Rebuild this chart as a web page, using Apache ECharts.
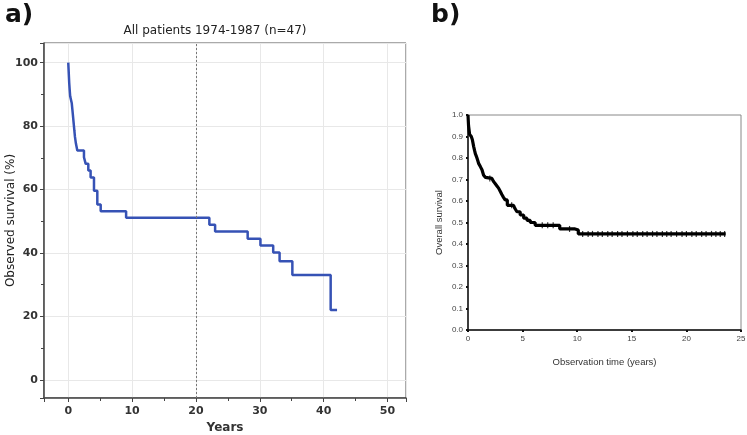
<!DOCTYPE html>
<html><head><meta charset="utf-8">
<script src="https://cdn.jsdelivr.net/npm/echarts@6/dist/echarts.min.js"></script>
<style>html,body{margin:0;padding:0;background:#fff}#c{width:747px;height:435px}</style>
</head><body><div id="c"></div>
<script>
// Panel a: Kaplan-Meier, all patients 1974-1987 (n=47)
const aTimes = [0, 0.05, 0.1, 0.15, 0.22, 0.3, 0.55, 0.65, 0.75, 0.85, 0.95, 1.05, 1.2, 1.42, 2.46, 2.73, 3.14, 3.5, 4.03, 4.55, 5.08, 9.06, 22.1, 23.0, 28.1, 30.1, 32.1, 33.1, 35.1, 41.1, 42.1];
const aSurvival = [100, 97.9, 95.7, 93.6, 91.5, 89.4, 87.2, 85.1, 83.0, 80.9, 78.7, 76.6, 74.5, 72.3, 70.2, 68.1, 66.0, 63.8, 59.6, 55.3, 53.2, 51.1, 48.9, 46.8, 44.5, 42.4, 40.2, 37.4, 33.1, 22.0, 22.0];
const aCutoff = 20;

// Panel b: overall survival
const bTimes = [0, 0.05, 0.15, 0.3, 0.4, 0.52, 0.6, 0.67, 0.75, 0.82, 0.9, 0.97, 1.05, 1.13, 1.28, 1.43, 1.6, 1.74, 2.19, 2.35, 2.5, 2.65, 2.8, 2.95, 3.1, 3.25, 3.4, 3.6, 4.17, 4.3, 4.48, 4.78, 5.1, 5.4, 5.7, 6.15, 8.1, 8.4, 9.8, 10.1, 23.6];
const bSurvival = [1.0, 0.95, 0.91, 0.90, 0.885, 0.853, 0.835, 0.82, 0.81, 0.80, 0.787, 0.775, 0.768, 0.76, 0.745, 0.72, 0.71, 0.705, 0.698, 0.69, 0.68, 0.67, 0.66, 0.645, 0.63, 0.617, 0.605, 0.58, 0.58, 0.565, 0.55, 0.535, 0.52, 0.51, 0.50, 0.487, 0.487, 0.47, 0.465, 0.447, 0.447];
const bCensored = [2.0, 4.0, 6.8, 7.3, 7.8, 9.3, 10.5, 11.0, 11.4, 11.9, 12.3, 12.8, 13.2, 13.7, 14.1, 14.6, 15.1, 15.5, 16.0, 16.4, 16.9, 17.3, 17.8, 18.2, 18.6, 19.1, 19.6, 20.0, 20.5, 20.9, 21.4, 21.8, 22.3, 22.7, 23.1, 23.5];

function stepValue(times, vals, t) {
  let v = vals[0];
  for (let i = 0; i < times.length; i++) { if (times[i] <= t) v = vals[i]; }
  return v;
}

const chart = echarts.init(document.getElementById('c'));
const fa = 'DejaVu Sans';
const fb = 'Liberation Sans';

chart.setOption({
  animation: false,
  title: {
    text: 'All patients 1974-1987 (n=47)',
    left: 210, top: 20, textAlign: 'center',
    textStyle: { fontFamily: fa, fontSize: 12, fontWeight: 'normal', color: '#222' }
  },
  graphic: [
    { type: 'text', left: 5, top: 3, style: { text: 'a)', font: 'bold 25px "DejaVu Sans"', fill: '#111' } },
    { type: 'text', left: 431, top: 3, style: { text: 'b)', font: 'bold 25px "DejaVu Sans"', fill: '#111' } }
  ],
  grid: [
    { left: 44, top: 43, width: 362, height: 355, outerBoundsMode: 'none', containLabel: false, show: true, borderColor: '#555', borderWidth: 1, backgroundColor: 'transparent' },
    { left: 468, top: 115, width: 273, height: 215, outerBoundsMode: 'none', containLabel: false, show: true, borderColor: '#888', borderWidth: 1, backgroundColor: 'transparent' }
  ],
  xAxis: [
    {
      gridIndex: 0, type: 'value', min: -3.8, max: 52.9, splitNumber: 6,
      name: 'Years', nameLocation: 'middle', nameGap: 24, nameMoveOverlap: false,
      nameTextStyle: { fontFamily: fa, fontSize: 12, fontWeight: 'bold', color: '#333' },
      axisLine: { show: true, onZero: false, lineStyle: { color: '#444', width: 1.5 } },
      axisTick: { show: true, length: 4, lineStyle: { color: '#444' } },
      minorTick: { show: true, splitNumber: 2, length: 3, lineStyle: { color: '#444' } },
      axisLabel: { fontFamily: fa, fontSize: 11, fontWeight: 'bold', color: '#333', showMinLabel: false, showMaxLabel: false, margin: 8 },
      splitLine: { show: true, lineStyle: { color: '#e8e8e8' } }
    },
    {
      gridIndex: 1, type: 'value', min: 0, max: 25, interval: 5,
      name: 'Observation time (years)', nameLocation: 'middle', nameGap: 27, nameMoveOverlap: false,
      nameTextStyle: { fontFamily: fb, fontSize: 9.5, color: '#333' },
      axisLine: { show: true, onZero: false, lineStyle: { color: '#111', width: 1.5 } },
      axisTick: { show: true, length: 2, lineStyle: { color: '#111', width: 2 } },
      axisLabel: { fontFamily: fb, fontSize: 8, color: '#444', margin: 5 },
      splitLine: { show: false }
    }
  ],
  yAxis: [
    {
      gridIndex: 0, type: 'value', min: -5.7, max: 106.2, splitNumber: 6,
      name: 'Observed survival (%)', nameLocation: 'middle', nameGap: 27, nameMoveOverlap: false,
      nameTextStyle: { fontFamily: fa, fontSize: 12, color: '#222' },
      axisLine: { show: true, onZero: false, lineStyle: { color: '#444', width: 1.5 } },
      axisTick: { show: true, length: 4, lineStyle: { color: '#444' } },
      minorTick: { show: true, splitNumber: 2, length: 3, lineStyle: { color: '#444' } },
      axisLabel: { fontFamily: fa, fontSize: 11, fontWeight: 'bold', color: '#333', showMinLabel: false, showMaxLabel: false, margin: 6 },
      splitLine: { show: true, lineStyle: { color: '#e8e8e8' } }
    },
    {
      gridIndex: 1, type: 'value', min: 0, max: 1, interval: 0.1,
      name: 'Overall survival', nameLocation: 'middle', nameGap: 24, nameMoveOverlap: false,
      nameTextStyle: { fontFamily: fb, fontSize: 9.5, color: '#333' },
      axisLine: { show: true, onZero: false, lineStyle: { color: '#111', width: 1.5 } },
      axisTick: { show: true, length: 2, lineStyle: { color: '#111', width: 2 } },
      axisLabel: { fontFamily: fb, fontSize: 8, color: '#444', margin: 5, formatter: v => v.toFixed(1) },
      splitLine: { show: false }
    }
  ],
  series: [
    {
      type: 'line', xAxisIndex: 0, yAxisIndex: 0, step: 'end', showSymbol: false,
      data: aTimes.map((t, i) => [t, aSurvival[i]]),
      lineStyle: { color: '#3652b5', width: 2.5 },
      markLine: {
        silent: true, symbol: ['none', 'none'], label: { show: false },
        lineStyle: { color: '#777', type: [2, 2], width: 1 },
        data: [{ xAxis: aCutoff }]
      }
    },
    {
      type: 'line', xAxisIndex: 1, yAxisIndex: 1, step: 'end', showSymbol: false,
      data: bTimes.map((t, i) => [t, bSurvival[i]]),
      lineStyle: { color: '#000', width: 3.2 }
    },
    {
      type: 'scatter', xAxisIndex: 1, yAxisIndex: 1,
      symbol: 'rect', symbolSize: [1.2, 6],
      itemStyle: { color: '#000' },
      data: bCensored.map(t => [t, stepValue(bTimes, bSurvival, t)])
    }
  ]
});
</script></body></html>
